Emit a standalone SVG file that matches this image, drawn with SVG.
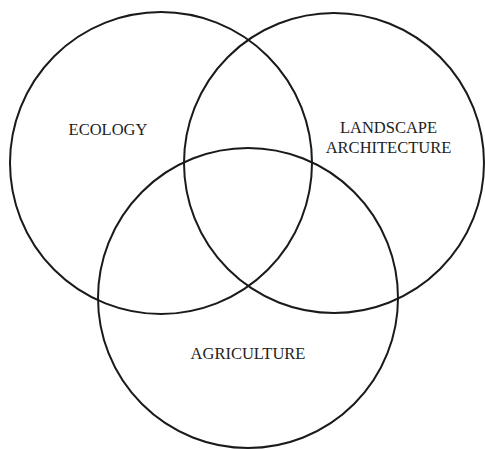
<svg xmlns="http://www.w3.org/2000/svg" width="485" height="449" viewBox="0 0 485 449">
<style>
.c{fill:none;stroke:#1a1a1a;stroke-width:2}
.t{font-family:"Liberation Serif","Times New Roman",serif;font-size:16.5px;fill:#222;text-anchor:middle}
</style>
<rect width="485" height="449" fill="#fff"/>
<g id="ecology"><circle class="c" cx="161" cy="163" r="151"/><text class="t" x="108" y="135">ECOLOGY</text></g>
<g id="landscape"><circle class="c" cx="334" cy="163" r="150"/><text class="t" x="388.5" y="133">LANDSCAPE</text><text class="t" x="388.5" y="153">ARCHITECTURE</text></g>
<g id="agriculture"><circle class="c" cx="248" cy="298" r="150"/><text class="t" x="248" y="359">AGRICULTURE</text></g>
<g id="connectors"></g>
</svg>
